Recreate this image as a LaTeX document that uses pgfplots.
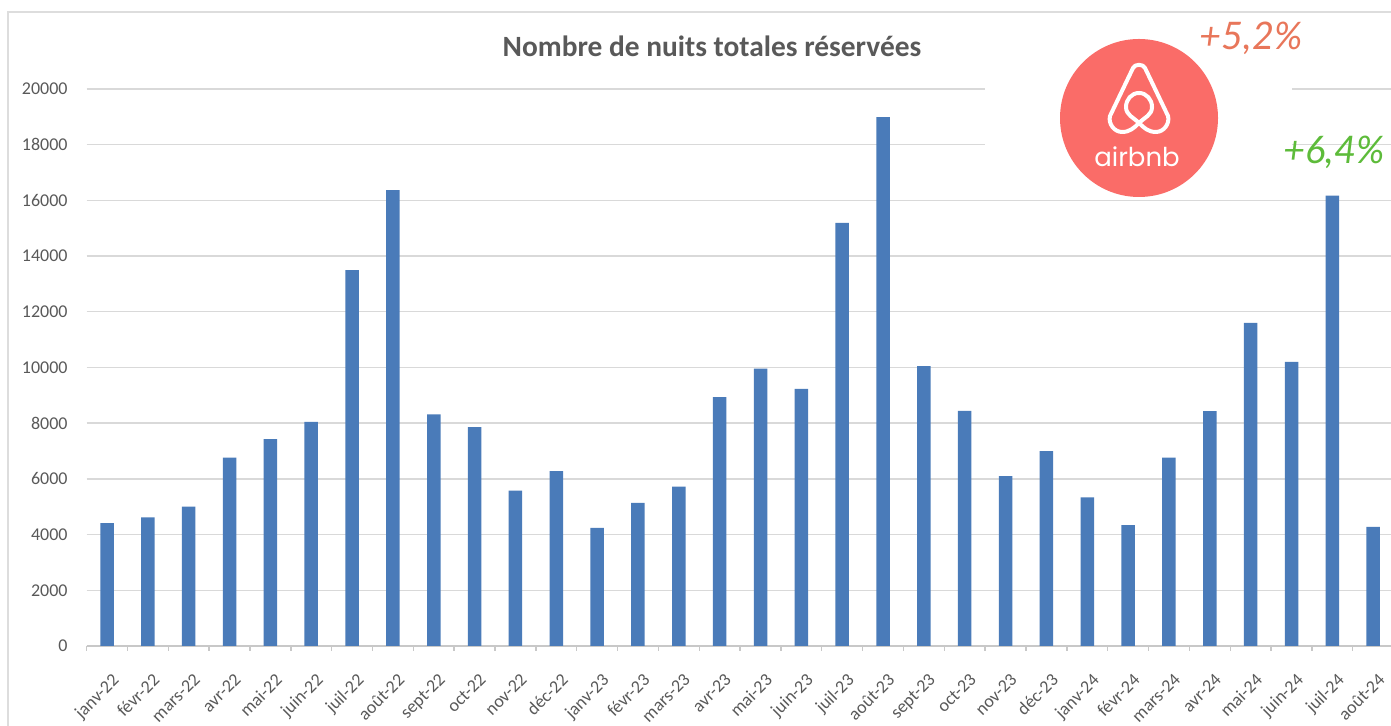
\documentclass[border=0pt]{standalone}
\usepackage{fontspec}
\setmainfont{Carlito}
\newfontfamily\handfont{Lato}
\newfontfamily\logofont{Poppins}
\usepackage{pgfplots}
\pgfplotsset{compat=1.18}
\definecolor{barblue}{HTML}{4A7BB9}
\definecolor{gridgray}{HTML}{D9D9D9}
\definecolor{axisgray}{HTML}{C8C8C8}
\definecolor{textgray}{HTML}{595959}
\definecolor{bordergray}{HTML}{DDDDDD}
\definecolor{logored}{HTML}{FA6C68}
\definecolor{orangetxt}{HTML}{E8765A}
\definecolor{greentxt}{HTML}{5DBB3A}
\begin{document}
\begin{tikzpicture}
\useasboundingbox (0,0) rectangle (695.5pt,363pt);
\begin{scope}[shift={(0pt,363pt)}, x=0.5pt, y=-0.5pt]
\draw[bordergray, line width=0.8pt] (8,12) rectangle (1420,760);
\end{scope}
\begin{axis}[
  at={(43.3pt,40pt)}, anchor=south west,
  scale only axis, width=653.5pt, height=278.5pt,
  xmin=-0.5, xmax=31.5, ymin=0, ymax=20000,
  ytick={0,2000,...,20000},
  scaled y ticks=false,
  ymajorgrids, grid style={draw=gridgray, line width=0.7pt},
  axis x line=bottom, axis y line=left,
  y axis line style={draw=none},
  x axis line style={draw=axisgray, line width=0.7pt, -},
  ytick style={draw=none},
  xtick={0,...,31},
  xticklabels={janv-22,févr-22,mars-22,avr-22,mai-22,juin-22,juil-22,août-22,sept-22,oct-22,nov-22,déc-22,janv-23,févr-23,mars-23,avr-23,mai-23,juin-23,juil-23,août-23,sept-23,oct-23,nov-23,déc-23,janv-24,févr-24,mars-24,avr-24,mai-24,juin-24,juil-24,août-24},
  minor xtick={-0.5,0.5,...,31.5},
  tick align=outside,
  xtick style={draw=axisgray, line width=0.7pt},
  major tick length=0pt,
  minor tick length=2.5pt,
  x tick label style={xshift=2pt, yshift=-13pt, rotate=45, anchor=north east, inner sep=0pt, font=\fontsize{9}{10}\selectfont, text=textgray},
  y tick label style={anchor=east, inner sep=0pt, xshift=-9.3pt, font=\fontsize{9}{10}\selectfont, text=textgray},
  /pgf/number format/assume math mode=true,
  /pgf/number format/1000 sep={},
]
\addplot[ybar, bar width=6.75pt, fill=barblue, draw=none] coordinates {
(0,4410) (1,4620) (2,5000) (3,6760) (4,7430) (5,8050) (6,13500) (7,16370)
(8,8320) (9,7860) (10,5580) (11,6280) (12,4240) (13,5140) (14,5720) (15,8940)
(16,9960) (17,9230) (18,15190) (19,18990) (20,10050) (21,8440) (22,6100) (23,7000)
(24,5340) (25,4340) (26,6760) (27,8430) (28,11600) (29,10200) (30,16170) (31,4280)
};
\end{axis}
\begin{scope}[shift={(0pt,363pt)}, x=0.5pt, y=-0.5pt]
\fill[white] (985,70) rectangle (1292,198.5);
\node[font=\bfseries\fontsize{14.7}{17}\selectfont, text=textgray] at (712,46) {Nombre de nuits totales réservées};
\node[font=\handfont\itshape\fontsize{19}{22}\selectfont, text=orangetxt] at (1251,38) {+5,2\%};
\node[font=\handfont\itshape\fontsize{19}{22}\selectfont, text=greentxt] at (1334,152) {+6,4\%};
\end{scope}
\begin{scope}[shift={(569.5pt,304pt)}, x=0.5pt, y=0.5pt]
\fill[logored] (0,0) circle (79);
\draw[white, line width=2pt, line join=round, line cap=round]
 (0,-5) to[out=-45,in=180] (17,-14) to[out=0,in=-75] (29,2) -- (6,50) to[out=115,in=65] (-6,50) -- (-29,2) to[out=-105,in=180] (-17,-14) to[out=0,in=-135] (0,-5) to[out=45,in=-90] (13,11) to[out=90,in=0] (0,25) to[out=180,in=90] (-13,11) to[out=-90,in=135] (0,-5);
\node[anchor=base, text=white, font=\logofont\fontsize{13}{15}\selectfont] at (-2,-49) {airbnb};
\end{scope}
\end{tikzpicture}
\end{document}
